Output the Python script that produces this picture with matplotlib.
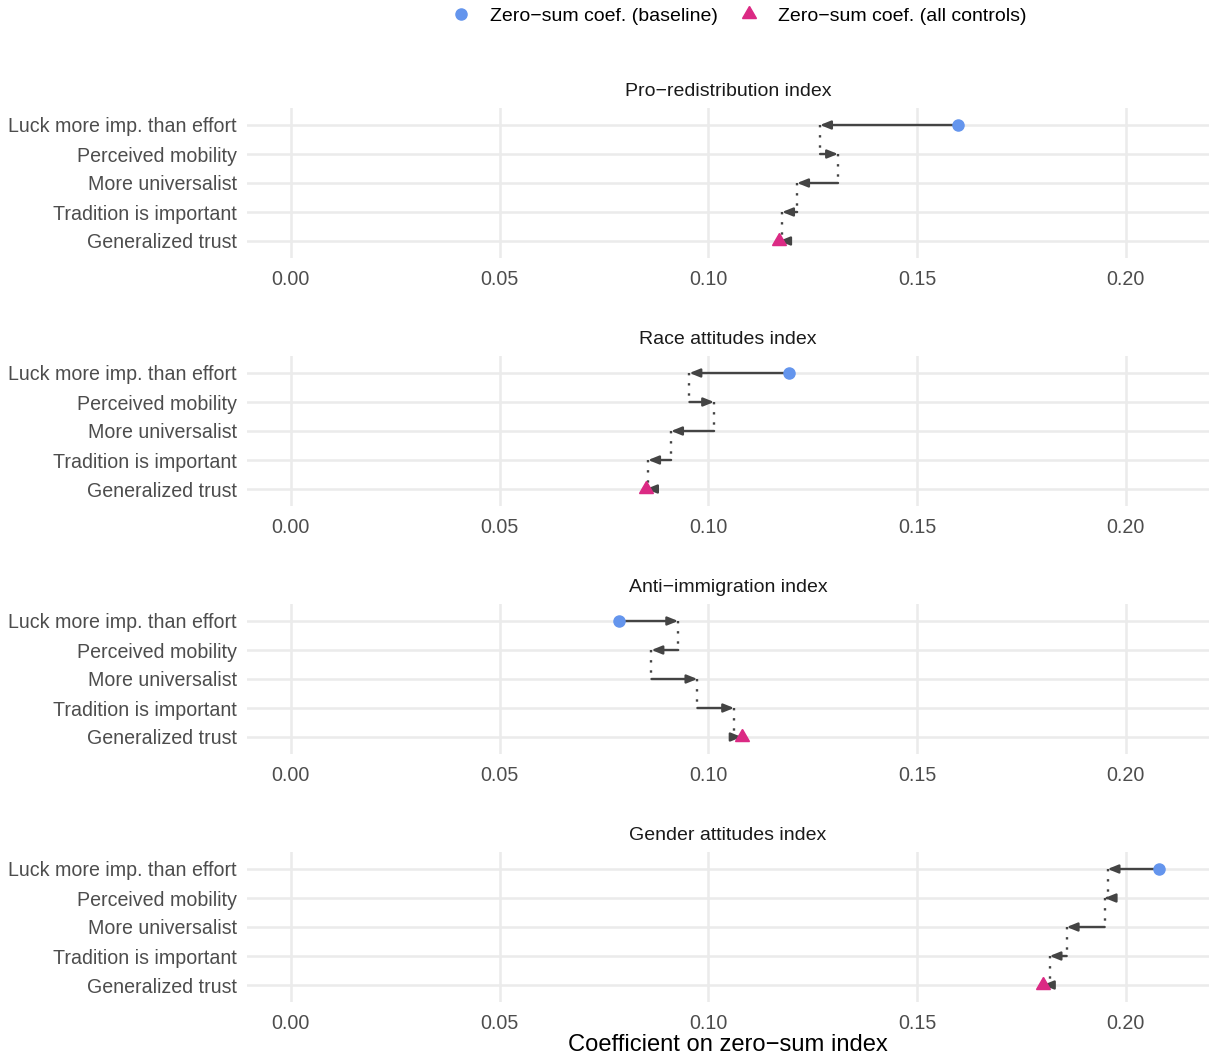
import matplotlib
matplotlib.use("Agg")
import matplotlib.pyplot as plt
from matplotlib.lines import Line2D

plt.rcParams['font.family'] = ['Liberation Sans', 'DejaVu Sans']

panels = ["Pro\u2212redistribution index", "Race attitudes index",
          "Anti\u2212immigration index", "Gender attitudes index"]
controls = ["Luck more imp. than effort", "Perceived mobility", "More universalist",
            "Tradition is important", "Generalized trust"]
# coefficient after successively adding each control; first value = baseline
coef_redistribution = [0.1598, 0.1268, 0.1311, 0.1213, 0.1177, 0.1170]
coef_race = [0.1194, 0.0955, 0.1014, 0.0911, 0.0856, 0.0851]
coef_immigration = [0.0785, 0.0928, 0.0864, 0.0974, 0.1062, 0.1080]
coef_gender = [0.2079, 0.1957, 0.1950, 0.1859, 0.1818, 0.1802]
all_coefs = [coef_redistribution, coef_race, coef_immigration, coef_gender]
xticks = [0.00, 0.05, 0.10, 0.15, 0.20]
xticklabels = ["0.00", "0.05", "0.10", "0.15", "0.20"]

W, H = 1209, 1059
fig = plt.figure(figsize=(W / 100, H / 100), dpi=100)

left_px, right_px = 246.7, 1209
row_step = 29
blue = "#6495ED"
pink = "#DB2A84"
arrow_col = "#444444"
grid_col = "#EBEBEB"
tri = (3, 0, 0)

for k, (title, v) in enumerate(zip(panels, all_coefs)):
    top_px = 107.6 + 248 * k
    bot_px = top_px + row_step * 5.2
    ax = fig.add_axes([left_px / W, 1 - bot_px / H, (right_px - left_px) / W, (bot_px - top_px) / H])
    ax.set_xlim(-0.0106, 0.2200)
    ax.set_ylim(4.6, -0.6)
    for s in ax.spines.values():
        s.set_visible(False)
    ax.set_xticks(xticks)
    ax.set_xticklabels(xticklabels)
    ax.set_yticks(range(5))
    ax.set_yticklabels(controls)
    ax.tick_params(length=0, labelsize=14.1, colors="#4D4D4D", pad=7)
    ax.tick_params(axis='x', pad=8)
    ax.grid(True, color=grid_col, linewidth=1.8)
    ax.set_axisbelow(True)
    ax.set_title(title, fontsize=14, color="#1A1A1A", pad=8)
    # dotted connectors
    for i in range(4):
        ax.plot([v[i + 1], v[i + 1]], [i, i + 1], linestyle=(0, (1, 3.3)),
                color=arrow_col, linewidth=1.7, zorder=2)
    # arrows
    for i in range(5):
        ax.annotate("", xy=(v[i + 1], i), xytext=(v[i], i),
                    arrowprops=dict(arrowstyle="-|>,head_length=0.62,head_width=0.25",
                                    color=arrow_col, lw=1.7, shrinkA=0, shrinkB=0),
                    zorder=3)
    ax.plot([v[0]], [0], marker="o", color=blue, markersize=8, linestyle="none", zorder=4)
    ax.plot([v[-1]], [4], marker=tri, color=pink, markersize=11.6, linestyle="none", zorder=4)
    if k == 3:
        ax.set_xlabel("Coefficient on zero\u2212sum index", fontsize=17.1, color="black", labelpad=1)

handles = [Line2D([], [], marker="o", color=blue, linestyle="none", markersize=8),
           Line2D([], [], marker=tri, color=pink, linestyle="none", markersize=11.6)]
fig.legend(handles, ["Zero\u2212sum coef. (baseline)", "Zero\u2212sum coef. (all controls)"],
           loc="center", bbox_to_anchor=(0.611, 1 - 16 / H), ncol=2, frameon=False,
           fontsize=14, handlelength=1.0, handletextpad=1.0, columnspacing=1.1)

fig.savefig("out.png", dpi=100)
